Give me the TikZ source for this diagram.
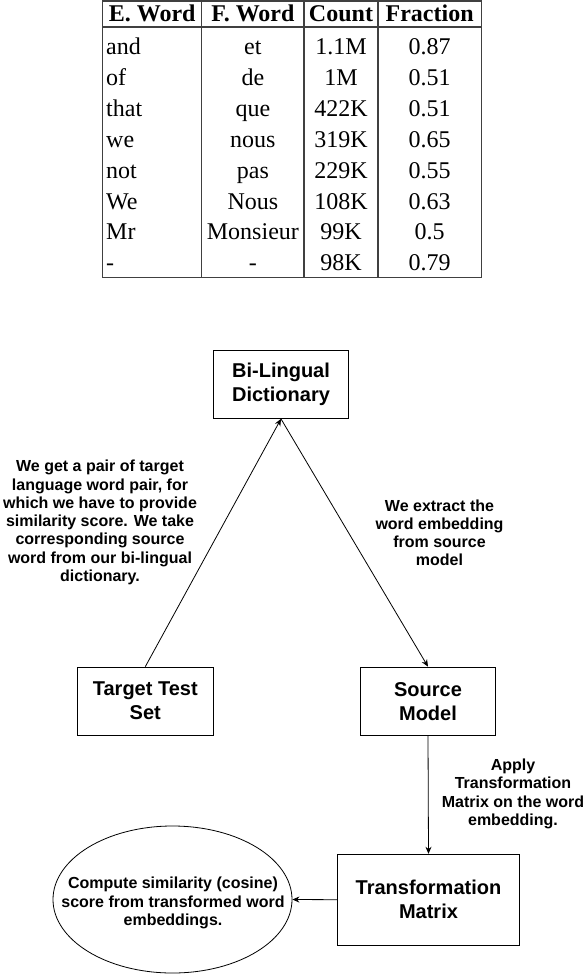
\documentclass[tikz,border=0pt]{standalone}
\usepackage{fontspec}
\setmainfont{Liberation Sans}
\newfontfamily\tabfont{Liberation Serif}
\usetikzlibrary{shapes.geometric,arrows.meta}
\tikzset{
  box/.style={draw, line width=1.1pt, rectangle, inner sep=0pt, align=center,
    font=\fontsize{20}{24}\selectfont\bfseries},
  lbl/.style={align=center, inner sep=0pt, font=\fontsize{16}{18.3}\selectfont\bfseries},
  arr/.style={line width=0.8pt, -{Stealth[length=7pt,width=6pt,inset=2.2pt]}},
  tline/.style={line width=1.4pt, draw=black!75},
  th/.style={anchor=base, inner sep=0pt, font=\tabfont\fontsize{24}{26}\selectfont\bfseries},
  tc/.style={anchor=base, inner sep=0pt, font=\tabfont\fontsize{24}{26}\selectfont},
  tl/.style={anchor=base west, inner sep=0pt, font=\tabfont\fontsize{24}{26}\selectfont}
}
\begin{document}
\begin{tikzpicture}[x=1pt,y=-1pt]
\useasboundingbox (0,0) rectangle (584,974);
\clip (0,0) rectangle (584,974);
% ---------- table ----------
\draw[tline] (102.7,1) rectangle (481.2,277.7);
\draw[tline] (102.7,27) -- (481.2,27);
\draw[tline] (201.7,1) -- (201.7,277.7);
\draw[tline] (304,1) -- (304,277.7);
\draw[tline] (378,1) -- (378,277.7);
\node[th] (h1) at (152.2,21.7) {E. Word};
\node[th] (h2) at (252.9,21.7) {F. Word};
\node[th] (h3) at (341,21.7) {Count};
\node[th] (h4) at (429.6,21.7) {Fraction};
\foreach \e/\f/\c/\r [count=\k from 0] in {and/et/1.1M/0.87, of/de/1M/0.51, that/que/422K/0.51, we/nous/319K/0.65, not/pas/229K/0.55, We/Nous/108K/0.63, Mr/Monsieur/99K/0.5, -/-/98K/0.79}{
  \pgfmathsetmacro{\yy}{55+30.8*\k}
  \node[tl] (e\k) at (106,\yy) {\e};
  \node[tc] (f\k) at (252.9,\yy) {\f};
  \node[tc] (c\k) at (341,\yy) {\c};
  \node[tc] (r\k) at (429.6,\yy) {\r};
}
% ---------- diagram ----------
\node[box, minimum width=135.5pt, minimum height=68.3pt] (B) at (281,384.2) {Bi-Lingual\\Dictionary};
\node[box, minimum width=136pt, minimum height=68pt] (T) at (145.3,701.2) {Target Test\\Set};
\node[box, minimum width=135pt, minimum height=68pt] (S) at (428,701.2) {Source\\Model};
\node[box, minimum width=181.7pt, minimum height=90.7pt] (M) at (428.5,899.7) {Transformation\\Matrix};
\node[ellipse, draw, line width=0.8pt, minimum width=239pt, minimum height=147pt, inner sep=0pt] (E) at (172.5,899.5) {};
\node[lbl] (Et) at (173,903) {Compute similarity (cosine)\\score from transformed word\\embeddings.};

\draw[arr] (T.north) -- (B.south);
\draw[arr] (B.south) -- (S.north);
\draw[arr] (S.south) -- (M.north);
\draw[arr] (M.west) -- (E.east);

\node[lbl] (L1) at (100,522.5) {We get a pair of target\\language word pair, for\\which we have to provide\\similarity score. We take\\corresponding source\\word from our bi-lingual\\dictionary.};
\node[lbl] (L2) at (439.5,532.8) {We extract the\\word embedding\\from source\\model};
\node[lbl] (L3) at (513,793.8) {Apply\\Transformation\\Matrix on the word\\embedding.};
\end{tikzpicture}
\end{document}
